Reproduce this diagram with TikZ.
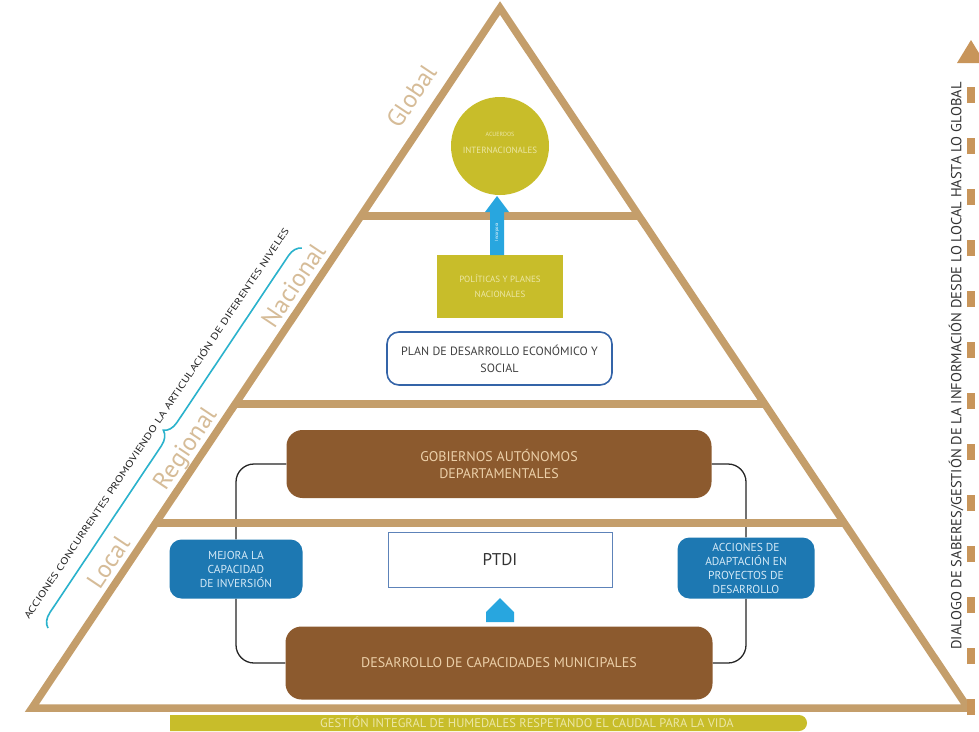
\documentclass[tikz,border=0pt]{standalone}
\usepackage{fontspec}
\setmainfont{PT Sans}
\usetikzlibrary{decorations.pathreplacing,calc}
\definecolor{tanline}{HTML}{C49E6B}
\definecolor{levtxt}{HTML}{D6BC98}
\definecolor{brownbox}{HTML}{8C5A2E}
\definecolor{browntxt}{HTML}{EBCFA8}
\definecolor{bluebox}{HTML}{1D78B2}
\definecolor{bluetxt}{HTML}{D5EAF7}
\definecolor{cyanbrace}{HTML}{2AB2CC}
\definecolor{olive}{HTML}{C8BD2A}
\definecolor{olivetxt}{HTML}{ECE7A6}
\definecolor{arrowblue}{HTML}{28A6DF}
\definecolor{planblue}{HTML}{3464A8}
\definecolor{dashtan}{HTML}{C8955A}
\pgfdeclarelayer{bg}
\pgfsetlayers{bg,main}
\begin{document}
\begin{tikzpicture}[x=1pt,y=-1pt,
  pyr/.style={draw=tanline,line width=7.5pt,line join=miter},
  lvl/.style={text=levtxt,font=\fontsize{25}{25}\selectfont,rotate=56.2,anchor=base,inner sep=0pt},
  brownb/.style={fill=brownbox,rounded corners=16pt,text=browntxt,align=center,font=\fontsize{14}{17}\selectfont},
  blueb/.style={fill=bluebox,rounded corners=12pt,text=bluetxt,align=center,font=\fontsize{11.5}{14}\selectfont,inner sep=2pt},
  conn/.style={draw=black!85,line width=1.3pt,rounded corners=18pt}]
\useasboundingbox (0,0) rectangle (979,731);
\begin{pgfonlayer}{bg}
\fill[white] (0,0) rectangle (979,731);
\end{pgfonlayer}

% pyramid
\coordinate (A) at (500,8);
\coordinate (BL) at (32,708);
\coordinate (BR) at (968,708);
\draw[pyr] (A) -- (BL) -- (BR) -- cycle;
\draw[pyr] (360.9,216) -- (639.1,216);
\draw[pyr] (235.2,404) -- (764.8,404);
\draw[pyr] (155.7,523) -- (844.3,523);

% boxes
\node[brownb,minimum width=425pt,minimum height=68pt] (gob) at (499,464) {GOBIERNOS AUTÓNOMOS\\DEPARTAMENTALES};
\node[brownb,minimum width=427pt,minimum height=73pt] (des) at (499,663) {DESARROLLO DE CAPACIDADES MUNICIPALES};
\node[blueb,minimum width=133pt,minimum height=59pt] (mej) at (236,569) {MEJORA LA\\CAPACIDAD\\DE INVERSIÓN};
\node[blueb,minimum width=137pt,minimum height=61pt] (acc) at (746,568) {ACCIONES DE\\ADAPTACIÓN EN\\PROYECTOS DE\\DESARROLLO};

% connectors (behind)
\begin{pgfonlayer}{bg}
\draw[conn] (gob.west) -| (mej.north);
\draw[conn] (mej.south) |- (des.west);
\draw[conn] (gob.east) -| (acc.north);
\draw[conn] (acc.south) |- (des.east);
\end{pgfonlayer}

% level labels
\node[lvl] (lglob) at (418.5,101) {Global};
\node[lvl] (lnac) at (300.6,290) {Nacional};
\node[lvl] (lreg) at (191.6,453) {Regional};
\node[lvl] (lloc) at (115.4,567) {Local};

% top elements
\node[circle,fill=olive,minimum size=98pt,inner sep=0pt] (circ) at (500,146) {};
\node[text=olivetxt,align=center,font=\fontsize{6}{7}\selectfont,inner sep=0pt] (circt1) at (500,134) {ACUERDOS};
\node[text=olivetxt,align=center,font=\fontsize{9}{9}\selectfont,inner sep=0pt] (circt2) at (500,150) {INTERNACIONALES};
\node[fill=olive,minimum width=126pt,minimum height=63pt,inner sep=0pt,text=olivetxt,align=center,font=\fontsize{9}{15}\selectfont] (yel) at (500,286.5) {POLÍTICAS Y PLANES\\NACIONALES};
\fill[arrowblue] (490,255) -- (490,212) -- (485,212) -- (497,196) -- (509,212) -- (504,212) -- (504,255) -- cycle;
\node[rotate=90,text=white,font=\fontsize{4.5}{4.5}\selectfont,inner sep=0pt] (inc) at (497,232) {Incorpora};
\node[draw=planblue,line width=1.6pt,rounded corners=12pt,minimum width=225pt,minimum height=53pt,align=center,text=black!75,font=\fontsize{12}{17}\selectfont] (plan) at (499.5,358.5) {PLAN DE DESARROLLO ECONÓMICO Y\\SOCIAL};

% PTDI
\node[draw=planblue!80,line width=1pt,minimum width=224pt,minimum height=55pt,text=black!80,font=\fontsize{17}{17}\selectfont] (ptdi) at (500,559.5) {PTDI};
\fill[arrowblue] (486,622) -- (486,612) -- (500,598) -- (514,612) -- (514,622) -- cycle;

% banner
\fill[olive] (170,715) -- (799,715) arc[start angle=90,end angle=-90,radius=8pt] -- (170,731) -- cycle;
\node[text=olivetxt,font=\fontsize{12.5}{12.5}\selectfont,inner sep=0pt,anchor=base] (ban) at (527,727.5) {GESTIÓN INTEGRAL DE HUMEDALES RESPETANDO EL CAUDAL PARA LA VIDA};

% brace and diagonal text
\coordinate (b1) at (48,628);
\coordinate (b2) at (302,248);
\draw[cyanbrace,line width=1.6pt,decorate,decoration={brace,amplitude=14pt}] (b1) -- (b2);
\node[rotate=56.2,xscale=1.3,font=\fontsize{9.5}{9.5}\selectfont,text=black!85,inner sep=0pt] (acctxt) at (156,423) {ACCIONES CONCURRENTES PROMOVIENDO LA ARTICULACIÓN DE DIFERENTES NIVELES};

% right dashed arrow and text
\coordinate (d1) at (971,715);
\coordinate (d2) at (971,62);
\draw[dashtan,line width=8.5pt,dash pattern=on 16pt off 35pt] (d1) -- (d2);
\fill[dashtan] (971,40) -- (957,63) -- (985,63) -- cycle;
\node[rotate=90,font=\fontsize{14.5}{14.5}\selectfont,text=black!80,inner sep=0pt] (dtxt) at (956,366) {DIALOGO DE SABERES/GESTIÓN DE LA INFORMACIÓN DESDE LO LOCAL HASTA LO GLOBAL};
\end{tikzpicture}
\end{document}
